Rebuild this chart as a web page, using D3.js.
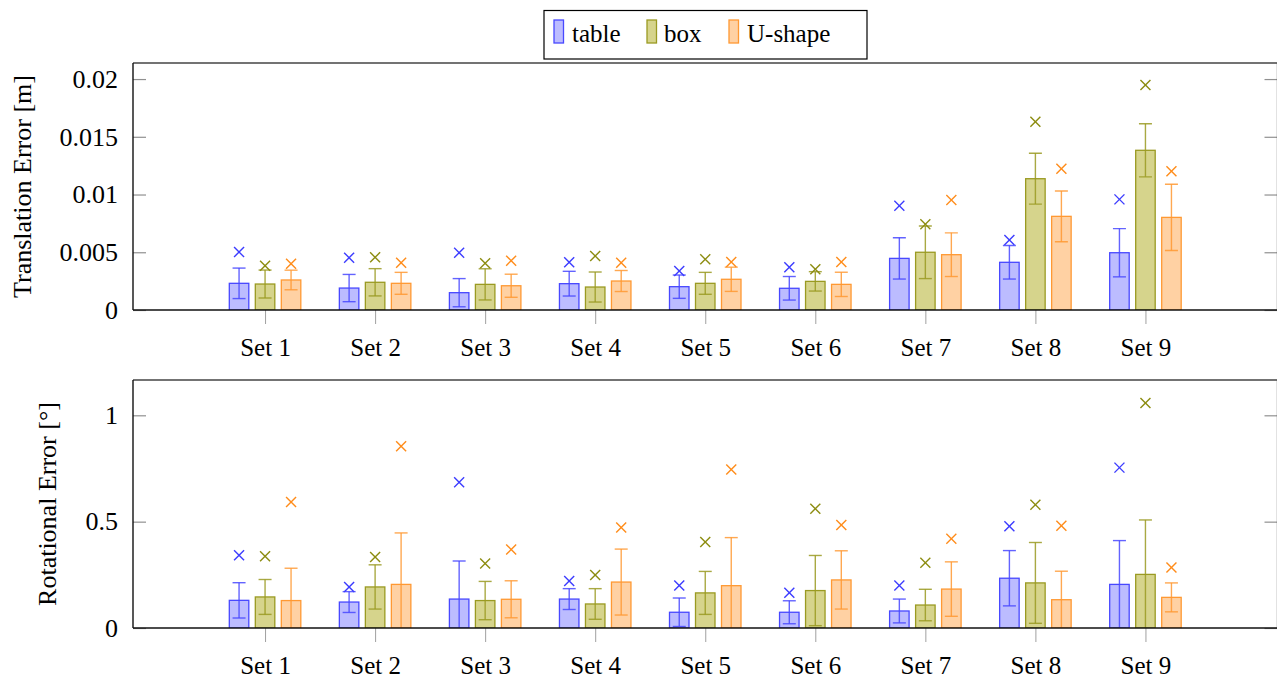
<!DOCTYPE html>
<html>
<head>
<meta charset="utf-8">
<script src="https://cdn.jsdelivr.net/npm/d3@7"></script>
<style>
  html, body { margin: 0; padding: 0; background: #fff; }
  svg { display: block; }
  text { font-family: "Liberation Serif", "Times New Roman", serif; fill: #000; }
</style>
</head>
<body>
<svg id="chart" width="1277" height="678"></svg>
<script>
// ---------------- DATA ----------------
const categories = ["Set 1","Set 2","Set 3","Set 4","Set 5","Set 6","Set 7","Set 8","Set 9"];
const seriesNames = ["table","box","U-shape"];

// Translation error [m]: mean, std, max
const transMeanTable = [0.00231,0.00190,0.00150,0.00228,0.00202,0.00188,0.00447,0.00413,0.00496];
const transMeanBox   = [0.00225,0.00240,0.00222,0.00199,0.00231,0.00248,0.00500,0.01137,0.01383];
const transMeanU     = [0.00260,0.00231,0.00210,0.00251,0.00266,0.00222,0.00479,0.00811,0.00802];
const transStdTable  = [0.00132,0.00118,0.00122,0.00107,0.00101,0.00102,0.00179,0.00145,0.00209];
const transStdBox    = [0.00121,0.00118,0.00135,0.00130,0.00095,0.00084,0.00228,0.00220,0.00230];
const transStdU      = [0.00085,0.00095,0.00100,0.00091,0.00105,0.00105,0.00189,0.00220,0.00287];
const transMaxTable  = [0.00502,0.00453,0.00496,0.00413,0.00338,0.00370,0.00903,0.00606,0.00958];
const transMaxBox    = [0.00384,0.00456,0.00404,0.00468,0.00439,0.00352,0.00742,0.01630,0.01948];
const transMaxU      = [0.00400,0.00410,0.00427,0.00410,0.00416,0.00416,0.00952,0.01224,0.01201];

// Rotational error [deg]: mean, std, max
const rotMeanTable = [0.130,0.122,0.136,0.136,0.074,0.074,0.080,0.234,0.205];
const rotMeanBox   = [0.146,0.193,0.129,0.113,0.165,0.176,0.108,0.212,0.252];
const rotMeanU     = [0.129,0.205,0.135,0.216,0.199,0.226,0.183,0.133,0.144];
const rotStdTable  = [0.083,0.049,0.179,0.049,0.067,0.054,0.056,0.130,0.206];
const rotStdBox    = [0.082,0.104,0.090,0.072,0.101,0.165,0.074,0.190,0.256];
const rotStdU      = [0.152,0.242,0.087,0.155,0.226,0.137,0.128,0.134,0.068];
const rotMaxTable  = [0.342,0.193,0.685,0.221,0.200,0.166,0.200,0.478,0.754];
const rotMaxBox    = [0.337,0.334,0.303,0.249,0.404,0.561,0.307,0.580,1.058];
const rotMaxU      = [0.592,0.854,0.369,0.473,0.745,0.484,0.420,0.481,0.285];

// Tick values & labels
const transTickValues = [0, 0.005, 0.01, 0.015, 0.02];
const transTickLabels = ["0", "0.005", "0.01", "0.015", "0.02"];
const rotTickValues = [0, 0.5, 1];
const rotTickLabels = ["0", "0.5", "1"];

// ---------------- STYLE ----------------
const fills   = ["#bcbcff", "#d6d48c", "#ffd1a3"];
const strokes = ["#4848ff", "#9a9a22", "#ff9933"];
const marks   = ["#3c3cff", "#8c8c10", "#ff8c1a"];

const svg = d3.select("#chart");
const left = 133, right = 1277.5;

const x = d3.scaleLinear().domain([-0.2, 10.2]).range([left, right]);
const xOff = d3.scalePoint().domain(seriesNames).range([-26, 26]);
const barW = 19.5, capW = 13, markS = 5;

function panel(cfg) {
  const { top, bottom, yMax, means, stds, maxs, tickValues, tickLabels, yLabel, yLabelX, clipId } = cfg;
  const y = d3.scaleLinear().domain([0, yMax]).range([bottom, top]);
  const g = svg.append("g");

  g.append("clipPath").attr("id", clipId)
    .append("rect").attr("x", left).attr("y", top).attr("width", right - left).attr("height", bottom - top);

  // x axis ticks & labels
  const xAxis = d3.axisBottom(x)
    .tickValues(d3.range(1, categories.length + 1))
    .tickFormat(d => categories[d - 1])
    .tickSize(14).tickPadding(14);
  const gx = g.append("g").attr("transform", `translate(0,${bottom})`).call(xAxis);
  gx.select(".domain").remove();
  gx.selectAll(".tick line").attr("stroke", "#a0a0a0").attr("stroke-width", 1);
  gx.selectAll(".tick text").attr("font-size", 25)
    .attr("font-family", '"Liberation Serif", "Times New Roman", serif');

  // left y axis
  const yAxis = d3.axisLeft(y).tickValues(tickValues)
    .tickFormat((d, i) => tickLabels[i]).tickSize(-13).tickPadding(15);
  const gy = g.append("g").attr("transform", `translate(${left},0)`).call(yAxis);
  gy.select(".domain").remove();
  gy.selectAll(".tick line").attr("stroke", "#909090").attr("stroke-width", 1.2);
  gy.selectAll(".tick text").attr("font-size", 26)
    .attr("font-family", '"Liberation Serif", "Times New Roman", serif');

  // right mirrored ticks
  const yAxisR = d3.axisRight(y).tickValues(tickValues).tickFormat("").tickSize(-13);
  const gyr = g.append("g").attr("transform", `translate(${right},0)`).call(yAxisR);
  gyr.select(".domain").remove();
  gyr.selectAll(".tick line").attr("stroke", "#909090").attr("stroke-width", 1.2);

  // data
  const plot = g.append("g").attr("clip-path", `url(#${clipId})`);
  seriesNames.forEach((s, si) => {
    const rows = categories.map((c, i) => ({ i: i + 1, m: means[si][i], sd: stds[si][i], mx: maxs[si][i] }));
    const sg = plot.append("g");
    // bars
    sg.selectAll("rect.bar").data(rows).join("rect").attr("class", "bar")
      .attr("x", d => x(d.i) + xOff(s) - barW / 2)
      .attr("y", d => y(d.m))
      .attr("width", barW)
      .attr("height", d => y(0) - y(d.m))
      .attr("fill", fills[si])
      .attr("stroke", strokes[si]).attr("stroke-width", 1.3);
    // error bars
    const eg = sg.selectAll("g.err").data(rows).join("g").attr("class", "err")
      .attr("stroke", strokes[si]).attr("stroke-width", 1.4).attr("stroke-opacity", 0.85);
    eg.append("line")
      .attr("x1", d => x(d.i) + xOff(s)).attr("x2", d => x(d.i) + xOff(s))
      .attr("y1", d => y(d.m - d.sd)).attr("y2", d => y(d.m + d.sd));
    eg.append("line")
      .attr("x1", d => x(d.i) + xOff(s) - capW / 2).attr("x2", d => x(d.i) + xOff(s) + capW / 2)
      .attr("y1", d => y(d.m + d.sd)).attr("y2", d => y(d.m + d.sd));
    eg.append("line")
      .attr("x1", d => x(d.i) + xOff(s) - capW / 2).attr("x2", d => x(d.i) + xOff(s) + capW / 2)
      .attr("y1", d => y(d.m - d.sd)).attr("y2", d => y(d.m - d.sd));
    // max markers (x)
    const mg = sg.selectAll("g.mark").data(rows).join("g").attr("class", "mark")
      .attr("transform", d => `translate(${x(d.i) + xOff(s)},${y(d.mx)})`)
      .attr("stroke", marks[si]).attr("stroke-width", 1.4);
    mg.append("line").attr("x1", -markS).attr("y1", -markS).attr("x2", markS).attr("y2", markS);
    mg.append("line").attr("x1", -markS).attr("y1", markS).attr("x2", markS).attr("y2", -markS);
  });

  // frame
  g.append("line").attr("x1", left).attr("x2", right).attr("y1", top).attr("y2", top)
    .attr("stroke", "#444").attr("stroke-width", 1.3);
  g.append("line").attr("x1", right).attr("x2", right).attr("y1", top).attr("y2", bottom)
    .attr("stroke", "#444").attr("stroke-width", 1.3);
  g.append("line").attr("x1", left).attr("x2", right).attr("y1", bottom).attr("y2", bottom)
    .attr("stroke", "#111").attr("stroke-width", 1.4);
  g.append("line").attr("x1", left).attr("x2", left).attr("y1", top).attr("y2", bottom)
    .attr("stroke", "#111").attr("stroke-width", 1.4);

  // y label
  g.append("text")
    .attr("transform", `translate(${yLabelX},${(top + bottom) / 2}) rotate(-90)`)
    .attr("text-anchor", "middle").attr("dominant-baseline", "central")
    .attr("font-size", 26).text(yLabel);
}

panel({
  top: 63, bottom: 310, yMax: 0.02139,
  means: [transMeanTable, transMeanBox, transMeanU],
  stds: [transStdTable, transStdBox, transStdU],
  maxs: [transMaxTable, transMaxBox, transMaxU],
  tickValues: transTickValues, tickLabels: transTickLabels,
  yLabel: "Translation Error [m]", yLabelX: 22, clipId: "clipTop"
});

panel({
  top: 380, bottom: 628, yMax: 1.166,
  means: [rotMeanTable, rotMeanBox, rotMeanU],
  stds: [rotStdTable, rotStdBox, rotStdU],
  maxs: [rotMaxTable, rotMaxBox, rotMaxU],
  tickValues: rotTickValues, tickLabels: rotTickLabels,
  yLabel: "Rotational Error [°]", yLabelX: 47, clipId: "clipBot"
});

// ---------------- LEGEND ----------------
const legend = svg.append("g");
legend.append("rect").attr("x", 544).attr("y", 10.5).attr("width", 323).attr("height", 48.5)
  .attr("fill", "#fff").attr("stroke", "#000").attr("stroke-width", 1.2);
const legendX = [554, 647, 729];
const legendTextX = [572, 664, 747];
seriesNames.forEach((s, si) => {
  legend.append("rect").attr("x", legendX[si]).attr("y", 20).attr("width", 9.5).attr("height", 23)
    .attr("fill", fills[si]).attr("stroke", strokes[si]).attr("stroke-width", 1.3);
  legend.append("text").attr("x", legendTextX[si]).attr("y", 42).attr("font-size", 25).text(s);
});
</script>
</body>
</html>
